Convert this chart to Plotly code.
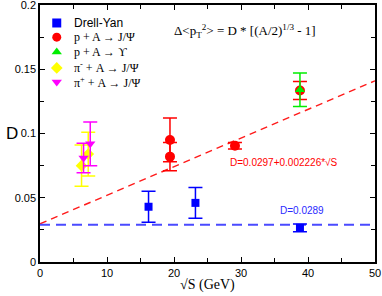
import plotly.graph_objects as go

# Data
dy_x = [16.2, 23.2, 38.8]
dy_y = [0.043, 0.046, 0.0265]
dy_e = [0.012, 0.012, 0.003]

pj_x = [19.4, 19.4, 29.1, 38.8]
pj_y = [0.095, 0.082, 0.0905, 0.1335]
pj_e = [0.017, 0.011, 0.0025, 0.007]

pu_x = [38.8]
pu_y = [0.134]
pu_e = [0.013]

pim_x = [6.2, 7.2]
pim_y = [0.075, 0.084]
pim_e = [0.016, 0.017]

pip_x = [6.5, 7.5]
pip_y = [0.081, 0.092]
pip_e = [0.0115, 0.017]

fit_a, fit_b = 0.0297, 0.002226
const_d = 0.0289
line_x = [0, 50]

SANS = "Liberation Sans, Arial, sans-serif"
SERIF = "Liberation Serif, Times New Roman, serif"

fig = go.Figure()

fig.add_trace(go.Scatter(x=line_x, y=[fit_a + fit_b * v for v in line_x], mode="lines",
                         line=dict(color="#ff1a1a", width=1.4, dash="7px,5px"), showlegend=False))
fig.add_trace(go.Scatter(x=line_x, y=[const_d for v in line_x], mode="lines",
                         line=dict(color="#4a4aff", width=2, dash="10px,6px"), showlegend=False))

def pts(x, y, e, color, symbol, size):
    fig.add_trace(go.Scatter(x=x, y=y, mode="markers",
                             marker=dict(color=color, symbol=symbol, size=size, line=dict(width=0)),
                             error_y=dict(type="data", array=e, visible=True, color=color,
                                          thickness=1.5, width=7),
                             showlegend=False))

pts(dy_x, dy_y, dy_e, "#0000ff", "square", 8)
pts(pj_x, pj_y, pj_e, "#ff0000", "circle", 10)
pts(pu_x, pu_y, pu_e, "#00ee00", "triangle-up", 9)
pts(pim_x, pim_y, pim_e, "#ffff00", "diamond", 9)
pts(pip_x, pip_y, pip_e, "#ff00ff", "triangle-down", 9)

# custom legend on overlay axes
leg_names = ["Drell-Yan",
             "p + A \u2192 J/\u03a8",
             "p + A \u2192 \u03d2",
             "\u03c0<sup>-</sup> + A \u2192 J/\u03a8",
             "\u03c0<sup>+</sup> + A \u2192 J/\u03a8"]
leg_colors = ["#0000ff", "#ff0000", "#00ee00", "#ffff00", "#ff00ff"]
leg_symbols = ["square", "circle", "triangle-up", "diamond", "triangle-down"]
leg_fonts = [SANS, SERIF, SERIF, SERIF, SERIF]
leg_y = [0.930, 0.875, 0.817, 0.755, 0.700]

fig.add_trace(go.Scatter(x=[0.05] * 5, y=leg_y, mode="markers", xaxis="x2", yaxis="y2",
                         marker=dict(color=leg_colors, symbol=leg_symbols, size=9),
                         showlegend=False, hoverinfo="skip"))
for name, yy, fnt in zip(leg_names, leg_y, leg_fonts):
    fig.add_annotation(x=0.097, y=yy, xref="paper", yref="paper", text=name, showarrow=False,
                       xanchor="left", yanchor="middle", font=dict(family=fnt, size=12, color="black"))

fig.add_annotation(x=0.395, y=0.90, xref="paper", yref="paper",
                   text="\u0394&lt;p<sub>T</sub><sup>2</sup>&gt; = D * [(A/2)<sup>1/3</sup> - 1]",
                   showarrow=False, xanchor="left", yanchor="middle",
                   font=dict(family=SERIF, size=13, color="black"))
fig.add_annotation(x=0.561, y=0.3885, xref="paper", yref="paper",
                   text="D=0.0297+0.002226*\u221aS", showarrow=False,
                   xanchor="left", yanchor="middle", font=dict(family=SANS, size=10, color="#ff0000"))
fig.add_annotation(x=0.71, y=0.2, xref="paper", yref="paper",
                   text="D=0.0289", showarrow=False,
                   xanchor="left", yanchor="middle", font=dict(family=SANS, size=10, color="#2a2aff"))

# axis titles as annotations (keeps plot area fixed)
fig.add_annotation(x=-0.085, y=0.5, xref="paper", yref="paper", text="D", showarrow=False,
                   xanchor="center", yanchor="middle", font=dict(family=SANS, size=17, color="black"))
fig.add_annotation(x=0.5, y=-0.05, xref="paper", yref="paper", text="\u221aS (GeV)", showarrow=False,
                   xanchor="center", yanchor="top", font=dict(family=SERIF, size=14, color="black"))

axis_common = dict(showgrid=False, zeroline=False, showline=True, linecolor="black", linewidth=1.5,
                   mirror="allticks", ticks="inside", ticklen=5, tickwidth=1, tickcolor="black",
                   automargin=False, ticklabeloverflow="allow",
                   tickfont=dict(family=SANS, size=11, color="black"))

fig.update_layout(
    width=382, height=296,
    margin=dict(l=40, r=7, t=5, b=34),
    plot_bgcolor="white", paper_bgcolor="white",
    xaxis=dict(range=[0, 50], dtick=10, tick0=0,
               minor=dict(dtick=5, ticks="inside", ticklen=4, tickcolor="black", showgrid=False),
               **axis_common),
    yaxis=dict(range=[0, 0.2], dtick=0.05, tick0=0,
               minor=dict(dtick=0.025, ticks="inside", ticklen=4, tickcolor="black", showgrid=False),
               **axis_common),
    xaxis2=dict(overlaying="x", range=[0, 1], visible=False),
    yaxis2=dict(overlaying="y", range=[0, 1], visible=False),
    showlegend=False,
)

fig.write_html("out.html", config={"displayModeBar": False},
               post_script="document.body.style.margin='0';")
